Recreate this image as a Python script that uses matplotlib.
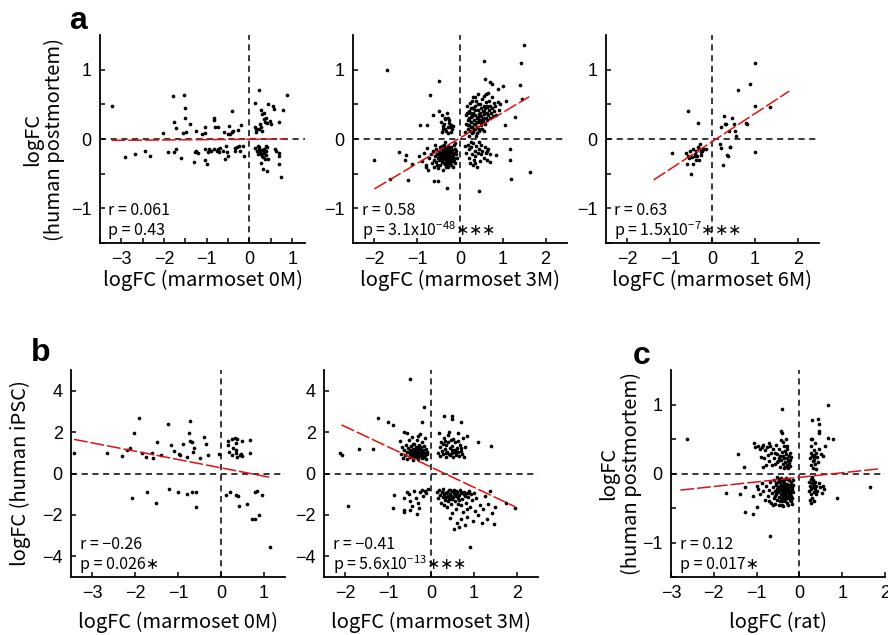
import numpy as np
import matplotlib.pyplot as plt

plt.rcParams['font.family'] = ['Liberation Sans', 'DejaVu Sans']
LABEL_FONT = ['Noto Sans CJK JP', 'DejaVu Sans']

# ---- data: (marmoset/rat logFC, human logFC) ----
a1_pts = [
    (-3.23, 0.48), (-2.91, -0.26), (-2.68, -0.21), (-2.44, -0.18), (-2.34, -0.25), (-2.03, 0.08),
    (-1.91, -0.19), (-1.79, 0.62), (-1.76, 0.25), (-1.72, 0.16), (-1.73, -0.15), (-1.76, -0.19),
    (-1.61, -0.28), (-1.54, 0.63), (-1.52, 0.45), (-1.52, 0.30), (-1.55, 0.09), (-1.48, 0.10),
    (-1.39, 0.22), (-1.27, -0.19), (-1.29, -0.33), (-1.26, 0.12), (-1.20, -0.20), (-1.12, 0.07),
    (-1.05, 0.17), (-1.05, 0.09), (-1.03, -0.14), (-1.04, -0.31), (-1.00, -0.36), (-0.98, -0.19),
    (-0.95, -0.15), (-0.91, -0.17), (-0.84, 0.28), (-0.82, 0.30), (-0.80, 0.17), (-0.77, -0.17),
    (-0.74, -0.14), (-0.73, 0.18), (-0.72, -0.19), (-0.59, 0.10), (-0.57, -0.29), (-0.55, -0.10),
    (-0.52, -0.19), (-0.49, 0.19), (-0.51, 0.07), (-0.50, -0.25), (-0.46, 0.07), (-0.41, 0.41),
    (-0.41, 0.10), (-0.38, 0.12), (-0.35, -0.13), (-0.33, -0.18), (-0.30, -0.11), (-0.27, 0.13),
    (-0.25, -0.10), (-0.23, -0.17), (-0.20, 0.20), (-0.16, -0.10), (-0.13, -0.24), (-0.82, -0.14),
    (-0.69, -0.13), (-0.61, -0.17), (-1.25, -0.17),
    (0.12, 0.52), (0.23, 0.70), (0.13, 0.17), (0.16, 0.10), (0.22, 0.14), (0.27, 0.18), (0.28, 0.42),
    (0.30, 0.36), (0.34, 0.38), (0.38, 0.31), (0.37, 0.24), (0.41, 0.23), (0.30, 0.11), (0.44, 0.51),
    (0.48, 0.26), (0.51, 0.21), (0.55, 0.48), (0.58, 0.43), (0.68, 0.25), (0.78, 0.42), (0.88, 0.63),
    (0.16, 0.14), (0.25, 0.22), (0.35, 0.29),
    (0.13, -0.13), (0.17, -0.17), (0.22, -0.11), (0.25, -0.19), (0.27, -0.22), (0.30, -0.16),
    (0.31, -0.26), (0.34, -0.19), (0.35, -0.15), (0.38, -0.23), (0.39, -0.17), (0.27, -0.35),
    (0.31, -0.43), (0.41, -0.46), (0.43, -0.29), (0.59, -0.14), (0.63, -0.18), (0.68, -0.24),
    (0.70, -0.20), (0.69, -0.36), (0.74, -0.55), (0.20, -0.10), (0.41, -0.12), (0.23, -0.14),
    (0.33, -0.20), (0.36, -0.29), (0.29, -0.24), (0.19, -0.22), (0.39, -0.10),
]

a2_pts = [
    # outliers
    (-2.00, -0.30), (-1.71, 1.00), (-1.64, -0.57), (-1.42, -0.19), (-1.29, -0.30), (-1.26, -0.23),
    (-1.22, -0.59), (-1.11, -0.36), (-0.93, 0.20), (-0.77, 0.20), (-0.79, -0.38), (-0.69, 0.64),
    (-0.64, 0.34), (-0.61, -0.61), (-0.52, -0.61), (-0.49, 0.84), (-0.31, -0.70),
    (-0.95, -0.25), (-0.88, -0.32), (-0.83, -0.20), (-0.80, -0.40), (-0.76, -0.13), (-0.74, -0.45),
    (0.56, 1.12), (0.58, 0.87), (0.70, 0.82), (0.74, 0.79), (1.01, 0.77), (0.88, 0.72), (1.07, 0.55),
    (1.28, 0.32), (1.05, 0.20), (1.40, 0.78), (1.42, 1.10), (1.50, 1.36), (1.44, 0.57), (1.64, -0.48),
    (1.17, -0.14), (1.17, -0.30), (1.19, -0.58), (0.45, -0.75), (0.84, -0.23), (0.70, -0.33),
    (0.62, -0.17),
    # upper-left group
    (-0.49, 0.41), (-0.43, 0.34), (-0.40, 0.19), (-0.36, 0.14), (-0.34, 0.29), (-0.29, 0.31),
    (-0.26, 0.23), (-0.23, 0.17), (-0.20, 0.10), (-0.16, 0.19), (-0.45, 0.25), (-0.42, 0.10),
    (-0.38, 0.22), (-0.33, 0.12), (-0.31, 0.38), (-0.27, 0.08), (-0.25, 0.27), (-0.22, 0.20),
    (-0.18, 0.14), (-0.28, 0.18), (-0.35, 0.30), (-0.40, 0.15),
    # lower-left group
    (-0.72, -0.28), (-0.68, -0.22), (-0.66, -0.35), (-0.63, -0.18), (-0.61, -0.30), (-0.60, -0.40),
    (-0.58, -0.25), (-0.57, -0.14), (-0.55, -0.33), (-0.54, -0.21), (-0.52, -0.28), (-0.51, -0.42),
    (-0.50, -0.17), (-0.49, -0.24), (-0.48, -0.31), (-0.47, -0.11), (-0.46, -0.37), (-0.45, -0.20),
    (-0.44, -0.27), (-0.43, -0.15), (-0.42, -0.33), (-0.41, -0.23), (-0.40, -0.44), (-0.39, -0.18),
    (-0.38, -0.29), (-0.37, -0.08), (-0.36, -0.25), (-0.35, -0.36), (-0.34, -0.13), (-0.33, -0.22),
    (-0.32, -0.31), (-0.31, -0.19), (-0.30, -0.27), (-0.29, -0.40), (-0.28, -0.10), (-0.27, -0.24),
    (-0.26, -0.34), (-0.25, -0.17), (-0.24, -0.29), (-0.23, -0.21), (-0.22, -0.38), (-0.21, -0.12),
    (-0.20, -0.26), (-0.19, -0.32), (-0.18, -0.16), (-0.17, -0.23), (-0.16, -0.30), (-0.15, -0.09),
    (-0.14, -0.20), (-0.13, -0.27), (-0.12, -0.35), (-0.11, -0.14), (-0.10, -0.22), (-0.09, -0.18),
    (-0.08, -0.28), (-0.35, -0.05), (-0.45, -0.28), (-0.30, -0.33), (-0.25, -0.26), (-0.40, -0.22),
    (-0.33, -0.40), (-0.27, -0.15), (-0.20, -0.20), (-0.38, -0.35), (-0.43, -0.10), (-0.48, -0.20),
    (-0.53, -0.37), (-0.58, -0.08), (-0.16, -0.40), (-0.12, -0.06),
    (-0.34, -0.26), (-0.31, -0.23), (-0.28, -0.30), (-0.26, -0.20), (-0.23, -0.25), (-0.21, -0.31),
    (-0.36, -0.18), (-0.39, -0.26), (-0.42, -0.30), (-0.29, -0.16), (-0.24, -0.35), (-0.19, -0.22),
    (-0.33, -0.34), (-0.37, -0.21), (-0.27, -0.28), (-0.17, -0.28), (-0.44, -0.22), (-0.31, -0.38),
    (-0.22, -0.14), (-0.14, -0.32),
    # upper-right group
    (0.12, 0.10), (0.14, 0.22), (0.15, 0.35), (0.16, 0.48), (0.18, 0.15), (0.19, 0.28), (0.20, 0.05),
    (0.21, 0.40), (0.22, 0.20), (0.23, 0.52), (0.24, 0.12), (0.25, 0.32), (0.26, 0.25), (0.27, 0.45),
    (0.28, 0.08), (0.29, 0.18), (0.30, 0.38), (0.31, 0.60), (0.32, 0.27), (0.33, 0.14), (0.34, 0.48),
    (0.35, 0.22), (0.36, 0.35), (0.37, 0.05), (0.38, 0.55), (0.39, 0.30), (0.40, 0.18), (0.41, 0.42),
    (0.42, 0.25), (0.43, 0.65), (0.44, 0.12), (0.45, 0.36), (0.46, 0.50), (0.47, 0.28), (0.48, 0.20),
    (0.49, 0.44), (0.50, 0.33), (0.51, 0.58), (0.52, 0.15), (0.53, 0.40), (0.54, 0.26), (0.55, 0.48),
    (0.56, 0.36), (0.57, 0.62), (0.58, 0.22), (0.59, 0.44), (0.60, 0.30), (0.61, 0.53), (0.62, 0.38),
    (0.63, 0.27), (0.64, 0.46), (0.65, 0.67), (0.66, 0.34), (0.67, 0.42), (0.68, 0.55), (0.70, 0.30),
    (0.71, 0.48), (0.72, 0.38), (0.74, 0.60), (0.75, 0.44), (0.77, 0.33), (0.79, 0.52), (0.80, 0.40),
    (0.82, 0.47), (0.85, 0.35), (0.88, 0.54), (0.90, 0.42), (0.93, 0.50), (0.30, 0.10), (0.40, 0.08),
    (0.20, 0.30), (0.25, 0.45), (0.35, 0.60), (0.45, 0.15), (0.55, 0.12), (0.60, 0.65), (0.27, 0.55),
    (0.17, 0.38),
    (0.22, 0.28), (0.26, 0.18), (0.29, 0.33), (0.33, 0.22), (0.36, 0.42), (0.39, 0.24), (0.43, 0.32),
    (0.47, 0.38), (0.50, 0.23), (0.53, 0.30), (0.31, 0.45), (0.24, 0.38), (0.41, 0.50), (0.57, 0.40),
    (0.19, 0.20), (0.35, 0.15), (0.45, 0.27), (0.62, 0.48),
    # lower-right group
    (0.12, -0.10), (0.15, -0.20), (0.18, -0.08), (0.20, -0.28), (0.22, -0.15), (0.24, -0.35),
    (0.26, -0.12), (0.28, -0.22), (0.30, -0.06), (0.32, -0.30), (0.34, -0.18), (0.36, -0.25),
    (0.38, -0.10), (0.40, -0.40), (0.42, -0.20), (0.44, -0.14), (0.46, -0.32), (0.48, -0.22),
    (0.50, -0.08), (0.52, -0.18), (0.55, -0.27), (0.58, -0.12), (0.60, -0.20), (0.63, -0.30),
    (0.66, -0.15), (0.70, -0.22), (0.30, -0.38), (0.25, -0.05), (0.45, -0.05), (0.35, -0.35),
]

a3_pts = [
    (-0.95, -0.20), (-0.58, 0.40), (-0.35, 0.23),
    (-0.61, -0.20), (-0.58, -0.24), (-0.52, -0.18), (-0.48, -0.26), (-0.45, -0.14), (-0.41, -0.21),
    (-0.38, -0.18), (-0.36, -0.24), (-0.34, -0.11), (-0.32, -0.15), (-0.30, -0.07), (-0.28, -0.19),
    (-0.25, -0.17), (-0.23, -0.15), (-0.19, -0.14), (-0.16, -0.15), (-0.60, -0.36), (-0.50, -0.51),
    (-0.45, -0.36), (-0.38, -0.30), (-0.32, -0.31), (-0.55, -0.27), (-0.41, -0.25), (-0.27, -0.23),
    (0.19, 0.17), (0.26, 0.33), (0.29, 0.21), (0.32, 0.22), (0.38, 0.11), (0.45, 0.31), (0.50, 0.22),
    (0.54, 0.11), (0.56, 0.05), (0.18, -0.07), (0.21, -0.13), (0.24, -0.38), (0.34, -0.23),
    (0.36, -0.24), (0.40, -0.11), (0.41, -0.12), (0.61, 0.70), (0.79, 0.23), (0.80, 0.21),
    (0.89, 0.80), (1.00, 1.10), (1.00, 0.47), (1.00, -0.19), (1.35, 0.46),
]

b1_pts = [
    (-3.43, 1.01), (-2.66, 0.99), (-2.31, 0.85), (-2.20, 1.12), (-2.12, 1.25), (-2.02, 1.97),
    (-1.91, 2.69), (-2.08, -1.17), (-1.84, 0.99), (-1.72, -0.91), (-1.74, 0.80), (-1.62, 0.99),
    (-1.59, 0.75), (-1.52, -1.41), (-1.50, 1.52), (-1.40, 0.88), (-1.24, 2.37), (-1.20, -0.75),
    (-1.16, 1.39), (-1.09, 1.07), (-0.99, -0.88), (-0.97, 0.96), (-0.96, 0.91), (-0.88, 1.41),
    (-0.80, 0.80), (-0.78, -0.99), (-0.74, 1.95), (-0.71, 2.56), (-0.71, 1.55), (-0.67, 1.52),
    (-0.67, -0.88), (-0.64, 1.04), (-0.62, 1.23), (-0.57, -1.62), (-0.57, -0.91), (-0.48, 0.75),
    (-0.39, 1.76), (-0.35, 1.44), (-0.31, 0.88), (-0.05, 0.93), (0.12, -1.04), (0.17, 1.55),
    (0.17, 1.39), (0.18, 1.04), (0.22, -0.88), (0.27, 1.65), (0.28, 1.23), (0.26, 0.91),
    (0.34, 1.71), (0.35, 1.49), (0.36, 1.12), (0.36, 0.98), (0.36, -1.04), (0.39, -1.09),
    (0.38, 1.65), (0.37, 0.80), (0.43, -1.57), (0.45, 0.91), (0.47, 0.96), (0.50, 0.85),
    (0.50, 1.58), (0.60, -1.49), (0.67, 0.99), (0.67, 1.63), (0.73, -2.19), (0.79, -0.91),
    (0.80, -2.19), (0.85, -0.83), (0.88, -2.00), (0.96, -1.04), (1.14, -3.55),
]

b2_pts = [
    # outliers
    (-2.12, 1.01), (-2.09, 0.88), (-1.95, -1.58), (-1.69, 1.20), (-1.36, 1.20), (-1.24, 2.67),
    (-1.00, 2.48), (-0.88, 2.35), (-0.86, -1.04), (-0.89, -1.68), (-0.64, -1.76), (-0.64, -1.87),
    (-0.49, 4.56), (-0.16, 3.20), (-0.20, 2.48), (-0.32, -1.97), (0.30, 2.77), (0.50, 2.77),
    (0.50, 2.61), (0.71, 2.48), (1.10, 1.52), (1.39, 1.31), (0.92, -3.55), (0.54, -2.67),
    (1.96, -1.65), (1.76, -1.44),
    # upper-left group
    (-0.72, 1.55), (-0.70, 0.95), (-0.68, 1.30), (-0.66, 0.75), (-0.64, 1.15), (-0.62, 2.00),
    (-0.60, 0.88), (-0.58, 1.40), (-0.56, 1.05), (-0.55, 0.70), (-0.53, 1.25), (-0.52, 1.60),
    (-0.50, 0.92), (-0.49, 1.12), (-0.48, 0.80), (-0.47, 1.35), (-0.46, 1.00), (-0.45, 1.75),
    (-0.44, 0.86), (-0.43, 1.20), (-0.42, 1.05), (-0.41, 0.65), (-0.40, 1.45), (-0.39, 0.95),
    (-0.38, 1.15), (-0.37, 0.78), (-0.36, 1.30), (-0.35, 1.02), (-0.34, 0.88), (-0.33, 1.60),
    (-0.32, 1.10), (-0.31, 0.72), (-0.30, 1.22), (-0.29, 0.96), (-0.28, 1.40), (-0.27, 0.84),
    (-0.26, 1.08), (-0.25, 1.90), (-0.24, 0.90), (-0.23, 1.28), (-0.22, 1.02), (-0.21, 0.76),
    (-0.20, 1.50), (-0.19, 0.94), (-0.18, 1.15), (-0.17, 0.82), (-0.16, 1.35), (-0.15, 1.00),
    (-0.14, 1.70), (-0.13, 0.88), (-0.12, 1.20), (-0.11, 0.70), (-0.10, 1.05), (-0.09, 0.92),
    (-0.55, 1.95), (-0.30, 1.80), (-0.42, 1.45), (-0.35, 0.80), (-0.26, 1.15), (-0.18, 0.85),
    (-0.40, 1.05), (-0.33, 0.95), (-0.27, 1.25), (-0.22, 0.92), (-0.44, 1.10), (-0.36, 1.18),
    (-0.30, 1.00), (-0.24, 1.10), (-0.18, 1.02), (-0.48, 0.98),
    # upper-right group
    (0.16, 1.00), (0.18, 1.95), (0.20, 1.30), (0.22, 0.85), (0.24, 1.50), (0.26, 1.10), (0.28, 0.95),
    (0.30, 1.70), (0.32, 1.20), (0.34, 0.80), (0.36, 1.40), (0.38, 1.05), (0.40, 1.85), (0.42, 0.92),
    (0.44, 1.25), (0.46, 1.60), (0.48, 1.00), (0.50, 1.35), (0.52, 0.78), (0.54, 1.15), (0.56, 1.50),
    (0.58, 0.90), (0.60, 1.25), (0.62, 1.95), (0.64, 1.05), (0.66, 0.85), (0.68, 1.40), (0.70, 1.10),
    (0.72, 0.95), (0.74, 1.70), (0.76, 0.80), (0.80, 1.30), (0.84, 1.80), (0.40, 1.50), (0.48, 1.15),
    (0.55, 1.05), (0.35, 1.00), (0.62, 1.55), (0.45, 0.88), (0.27, 1.45), (0.70, 1.25), (0.58, 1.15),
    (0.42, 2.00), (0.33, 1.55), (0.52, 1.65),
    # lower-left group
    (-0.55, -0.88), (-0.52, -0.98), (-0.48, -1.35), (-0.45, -1.55), (-0.40, -0.85), (-0.36, -1.20),
    (-0.28, -1.65), (-0.25, -0.90), (-0.22, -0.80), (-0.18, -1.10), (-0.15, -0.85), (-0.12, -0.95),
    (-0.08, -0.75), (-0.62, -1.20), (-0.50, -1.75), (-0.30, -1.40),
    # lower-right group
    (0.15, -0.90), (0.17, -1.20), (0.19, -0.80), (0.21, -1.05), (0.23, -1.40), (0.25, -0.88),
    (0.27, -1.15), (0.29, -0.75), (0.31, -1.00), (0.33, -1.30), (0.35, -0.92), (0.37, -1.60),
    (0.39, -1.10), (0.41, -0.82), (0.43, -1.25), (0.45, -0.98), (0.47, -1.45), (0.49, -0.86),
    (0.51, -1.15), (0.53, -0.78), (0.55, -1.35), (0.57, -1.02), (0.59, -1.70), (0.61, -0.90),
    (0.63, -1.20), (0.65, -1.05), (0.67, -0.80), (0.69, -1.50), (0.71, -0.95), (0.73, -1.25),
    (0.75, -1.85), (0.77, -0.88), (0.79, -1.10), (0.81, -1.40), (0.83, -0.92), (0.85, -2.10),
    (0.87, -1.15), (0.89, -0.85), (0.91, -1.60), (0.93, -1.00), (0.95, -1.30), (0.98, -2.30),
    (1.00, -0.95), (1.03, -1.80), (1.06, -1.20), (1.10, -2.00), (1.14, -1.50), (1.18, -2.40),
    (1.22, -1.70), (1.26, -1.10), (1.30, -2.20), (1.34, -1.45), (1.38, -0.85), (1.42, -1.90),
    (1.46, -2.45), (1.50, -1.60), (0.60, -2.40), (0.70, -2.20), (0.45, -2.15), (0.65, -2.60),
    (0.80, -2.50), (0.50, -1.90), (0.40, -1.35), (0.55, -1.05), (0.35, -1.15), (0.30, -1.50),
    (0.62, -1.45), (0.85, -1.70), (0.44, -0.80), (0.58, -0.85),
    (0.30, -0.95), (0.38, -0.90), (0.46, -1.08), (0.54, -0.95), (0.62, -1.05), (0.70, -0.88),
    (0.78, -1.00), (0.86, -0.95), (0.42, -1.15), (0.50, -1.25), (0.58, -1.10), (0.66, -1.30),
]

c_pts = [
    # outliers
    (-2.63, 0.50), (-1.71, -0.28), (-1.44, 0.29), (-1.39, -0.29), (-1.29, 0.10), (-1.27, -0.56),
    (-1.26, -0.20), (-1.08, -0.58), (-1.09, -0.32), (-0.99, -0.49), (-0.98, -0.18), (-0.69, -0.91),
    (-0.41, 0.94), (0.87, -0.36), (1.64, -0.20), (0.66, 1.00), (0.29, 0.77), (0.43, 0.79),
    (0.45, 0.72), (0.67, 0.51), (0.78, 0.50), (0.55, 0.26),
    # upper-left group
    (-1.07, 0.44), (-1.03, 0.38), (-0.97, 0.40), (-0.93, 0.36), (-0.88, 0.38), (-0.84, 0.42),
    (-0.80, 0.34), (-0.76, 0.39), (-0.72, 0.44), (-0.68, 0.40), (-0.90, 0.24), (-0.86, 0.10),
    (-0.82, 0.22), (-0.78, 0.12), (-0.74, 0.27), (-0.70, 0.18), (-0.66, 0.30), (-0.62, 0.36),
    (-0.60, 0.22), (-0.58, 0.14), (-0.55, 0.42), (-0.52, 0.28), (-0.50, 0.18), (-0.48, 0.35),
    (-0.46, 0.10), (-0.45, 0.25), (-0.44, 0.48), (-0.42, 0.20), (-0.41, 0.31), (-0.40, 0.58),
    (-0.39, 0.14), (-0.38, 0.26), (-0.37, 0.40), (-0.36, 0.08), (-0.35, 0.22), (-0.34, 0.33),
    (-0.33, 0.17), (-0.32, 0.50), (-0.31, 0.28), (-0.30, 0.12), (-0.29, 0.23), (-0.28, 0.36),
    (-0.27, 0.18), (-0.26, 0.08), (-0.25, 0.26), (-0.24, 0.15), (-0.23, 0.30), (-0.22, 0.20),
    (-0.21, 0.11), (-0.20, 0.24), (-0.43, 0.62), (-0.38, 0.45), (-0.34, 0.10), (-0.29, 0.40),
    (-0.47, 0.22), (-0.53, 0.16), (-0.56, 0.30), (-0.64, 0.13),
    # lower-left group
    (-0.96, -0.22), (-0.92, -0.30), (-0.88, -0.14), (-0.84, -0.26), (-0.80, -0.38), (-0.77, -0.18),
    (-0.74, -0.32), (-0.71, -0.24), (-0.68, -0.12), (-0.66, -0.42), (-0.64, -0.28), (-0.62, -0.20),
    (-0.60, -0.35), (-0.59, -0.10), (-0.57, -0.25), (-0.56, -0.44), (-0.55, -0.17), (-0.54, -0.30),
    (-0.53, -0.22), (-0.52, -0.38), (-0.51, -0.13), (-0.50, -0.27), (-0.49, -0.19), (-0.48, -0.34),
    (-0.47, -0.08), (-0.46, -0.24), (-0.45, -0.40), (-0.44, -0.16), (-0.43, -0.29), (-0.42, -0.21),
    (-0.41, -0.46), (-0.40, -0.11), (-0.39, -0.32), (-0.38, -0.18), (-0.37, -0.26), (-0.36, -0.37),
    (-0.35, -0.14), (-0.34, -0.23), (-0.33, -0.30), (-0.32, -0.07), (-0.31, -0.20), (-0.30, -0.42),
    (-0.29, -0.27), (-0.28, -0.15), (-0.27, -0.34), (-0.26, -0.22), (-0.25, -0.10), (-0.24, -0.29),
    (-0.23, -0.38), (-0.22, -0.18), (-0.21, -0.25), (-0.20, -0.12), (-0.19, -0.32), (-0.18, -0.20),
    (-0.17, -0.44), (-0.16, -0.27), (-0.15, -0.16), (-0.46, -0.13), (-0.40, -0.28), (-0.34, -0.40),
    (-0.28, -0.08), (-0.22, -0.30), (-0.58, -0.32), (-0.52, -0.05), (-0.44, -0.36), (-0.36, -0.10),
    (-0.30, -0.24), (-0.24, -0.18), (-0.18, -0.36), (-0.70, -0.40), (-0.62, -0.45), (-0.48, -0.45),
    (-0.38, -0.47), (-0.26, -0.45), (-0.20, -0.40), (-0.42, -0.06), (-0.32, -0.16), (-0.54, -0.14),
    (-0.43, -0.24), (-0.39, -0.22), (-0.35, -0.28), (-0.31, -0.33), (-0.27, -0.20), (-0.23, -0.24),
    (-0.19, -0.27), (-0.41, -0.35), (-0.37, -0.14), (-0.33, -0.19), (-0.29, -0.36), (-0.25, -0.31),
    (-0.21, -0.16), (-0.17, -0.22), (-0.45, -0.18), (-0.36, -0.31), (-0.28, -0.25), (-0.20, -0.34),
    (-0.16, -0.10), (-0.40, -0.40),
    # upper-right group
    (0.25, 0.22), (0.26, 0.30), (0.27, 0.12), (0.28, 0.40), (0.29, 0.25), (0.30, 0.50), (0.31, 0.18),
    (0.32, 0.08), (0.33, 0.34), (0.34, 0.27), (0.35, 0.20), (0.36, 0.44), (0.37, 0.14), (0.38, 0.30),
    (0.40, 0.06), (0.42, 0.24), (0.44, 0.16), (0.47, 0.36), (0.50, 0.28), (0.45, 0.62), (0.47, 0.58),
    (0.60, 0.40), (0.28, 0.50), (0.33, 0.24),
    # lower-right group
    (0.22, -0.12), (0.23, -0.25), (0.24, -0.38), (0.25, -0.18), (0.26, -0.08), (0.27, -0.30),
    (0.28, -0.22), (0.29, -0.14), (0.30, -0.35), (0.31, -0.20), (0.32, -0.10), (0.33, -0.27),
    (0.34, -0.16), (0.35, -0.40), (0.36, -0.22), (0.37, -0.12), (0.38, -0.30), (0.40, -0.18),
    (0.42, -0.25), (0.45, -0.14), (0.48, -0.20), (0.52, -0.28), (0.55, -0.18), (0.58, -0.22),
    (0.30, -0.05), (0.26, -0.42),
]

# regression lines as drawn (x ends, y ends)
fit_a1 = ([-3.23, 0.88], [-0.02, 0.00])
fit_a2 = ([-2.00, 1.62], [-0.72, 0.61])
fit_a3 = ([-1.38, 1.80], [-0.59, 0.69])
fit_b1 = ([-3.43, 1.14], [1.65, -0.18])
fit_b2 = ([-2.09, 1.96], [2.35, -1.60])
fit_c = ([-2.78, 1.89], [-0.24, 0.07])

STAR = '\u2217'
STARS_M = r'{\ast}{\ast}{\ast}'
r_labels = ['r = 0.061', 'r = 0.58', 'r = 0.63', 'r = \u22120.26', 'r = \u22120.41', 'r = 0.12']
p_labels = ['p = 0.43',
            r'p = 3.1x10$^{\mathregular{-48}}' + STARS_M + '$',
            r'p = 1.5x10$^{\mathregular{-7}}' + STARS_M + '$',
            'p = 0.026' + STAR,
            r'p = 5.6x10$^{\mathregular{-13}}' + STARS_M + '$',
            'p = 0.017' + STAR]
x_labels = ['logFC (marmoset 0M)', 'logFC (marmoset 3M)', 'logFC (marmoset 6M)',
            'logFC (marmoset 0M)', 'logFC (marmoset 3M)', 'logFC (rat)']


fig = plt.figure(figsize=(8.88, 6.35), dpi=100)

panels = [
    # rect, points, fit, xlim, ylim, xmajor, xminor, ymajor, yminor
    ([0.1126, 0.6173, 0.2309, 0.3276], a1_pts, fit_a1, (-3.5, 1.3), (-1.5, 1.5),
     [-3, -2, -1, 0, 1], np.arange(-3.5, 1.3, 0.5), [-1, 0, 1], [-1.5, -0.5, 0.5]),
    ([0.3975, 0.6173, 0.2410, 0.3276], a2_pts, fit_a2, (-2.5, 2.5), (-1.5, 1.5),
     [-2, -1, 0, 1, 2], [], [-1, 0, 1], [-1.5, -0.5, 0.5]),
    ([0.6824, 0.6173, 0.2399, 0.3276], a3_pts, fit_a3, (-2.5, 2.5), (-1.5, 1.5),
     [-2, -1, 0, 1, 2], [], [-1, 0, 1], [-1.5, -0.5, 0.5]),
    ([0.0800, 0.0913, 0.2410, 0.3260], b1_pts, fit_b1, (-3.5, 1.5), (-5, 5),
     [-3, -2, -1, 0, 1], [], [-4, -2, 0, 2, 4], []),
    ([0.3649, 0.0913, 0.2410, 0.3260], b2_pts, fit_b2, (-2.5, 2.5), (-5, 5),
     [-2, -1, 0, 1, 2], [], [-4, -2, 0, 2, 4], []),
    ([0.7556, 0.0913, 0.2410, 0.3260], c_pts, fit_c, (-3, 2), (-1.5, 1.5),
     [-3, -2, -1, 0, 1, 2], [], [-1, 0, 1], [-1.5, -0.5, 0.5]),
]

axes = []
for i, (rect, pts, fit, xlim, ylim, xmaj, xmin, ymaj, ymin) in enumerate(panels):
    ax = fig.add_axes(rect)
    pts = np.array(pts)
    ax.axhline(0, color='black', lw=1.1, ls=(0, (4, 3)), zorder=1)
    ax.axvline(0, color='black', lw=1.1, ls=(0, (4, 3)), zorder=1)
    ax.scatter(pts[:, 0], pts[:, 1], s=7, color='black', linewidths=0, zorder=2)
    ax.plot(fit[0], fit[1], color='#e01010', lw=1.1, ls=(0, (9, 2)), zorder=3)
    ax.set_xlim(xlim)
    ax.set_ylim(ylim)
    ax.set_xticks(xmaj)
    ax.set_xticks(xmin, minor=True)
    ax.set_yticks(ymaj)
    ax.set_yticks(ymin, minor=True)
    for s in ['top', 'right']:
        ax.spines[s].set_visible(False)
    for s in ['left', 'bottom']:
        ax.spines[s].set_linewidth(1.3)
    ax.tick_params(which='both', direction='in', length=3.5, width=1.1, labelsize=13, pad=6)
    ax.text(0.04, 0.155, r_labels[i], transform=ax.transAxes, ha='left', va='center',
            fontsize=11.5, family=LABEL_FONT)
    ax.text(0.04, 0.06, p_labels[i], transform=ax.transAxes, ha='left', va='center',
            fontsize=11.5, family=LABEL_FONT)
    xl_y = -0.178 if i < 3 else -0.217
    ax.text(0.5, xl_y, x_labels[i], transform=ax.transAxes, ha='center', va='center',
            fontsize=14.5, family=LABEL_FONT)
    axes.append(ax)

axes[0].text(-0.276, 0.5, 'logFC\n(human postmortem)', transform=axes[0].transAxes, rotation=90,
             ha='center', va='center', multialignment='center', fontsize=14.5,
             family=LABEL_FONT, linespacing=1.05)
axes[3].text(-0.238, 0.5, 'logFC (human iPSC)', transform=axes[3].transAxes, rotation=90,
             ha='center', va='center', fontsize=14.5, family=LABEL_FONT)
axes[5].text(-0.238, 0.5, 'logFC\n(human postmortem)', transform=axes[5].transAxes, rotation=90,
             ha='center', va='center', multialignment='center', fontsize=14.5,
             family=LABEL_FONT, linespacing=1.05)

fig.text(78 / 888, 1 - 21 / 635, 'a', fontsize=23, fontweight='bold', ha='center', va='center')
fig.text(41 / 888, 1 - 353 / 635, 'b', fontsize=23, fontweight='bold', ha='center', va='center')
fig.text(642 / 888, 1 - 356 / 635, 'c', fontsize=23, fontweight='bold', ha='center', va='center')

fig.savefig('out.png', dpi=100)
